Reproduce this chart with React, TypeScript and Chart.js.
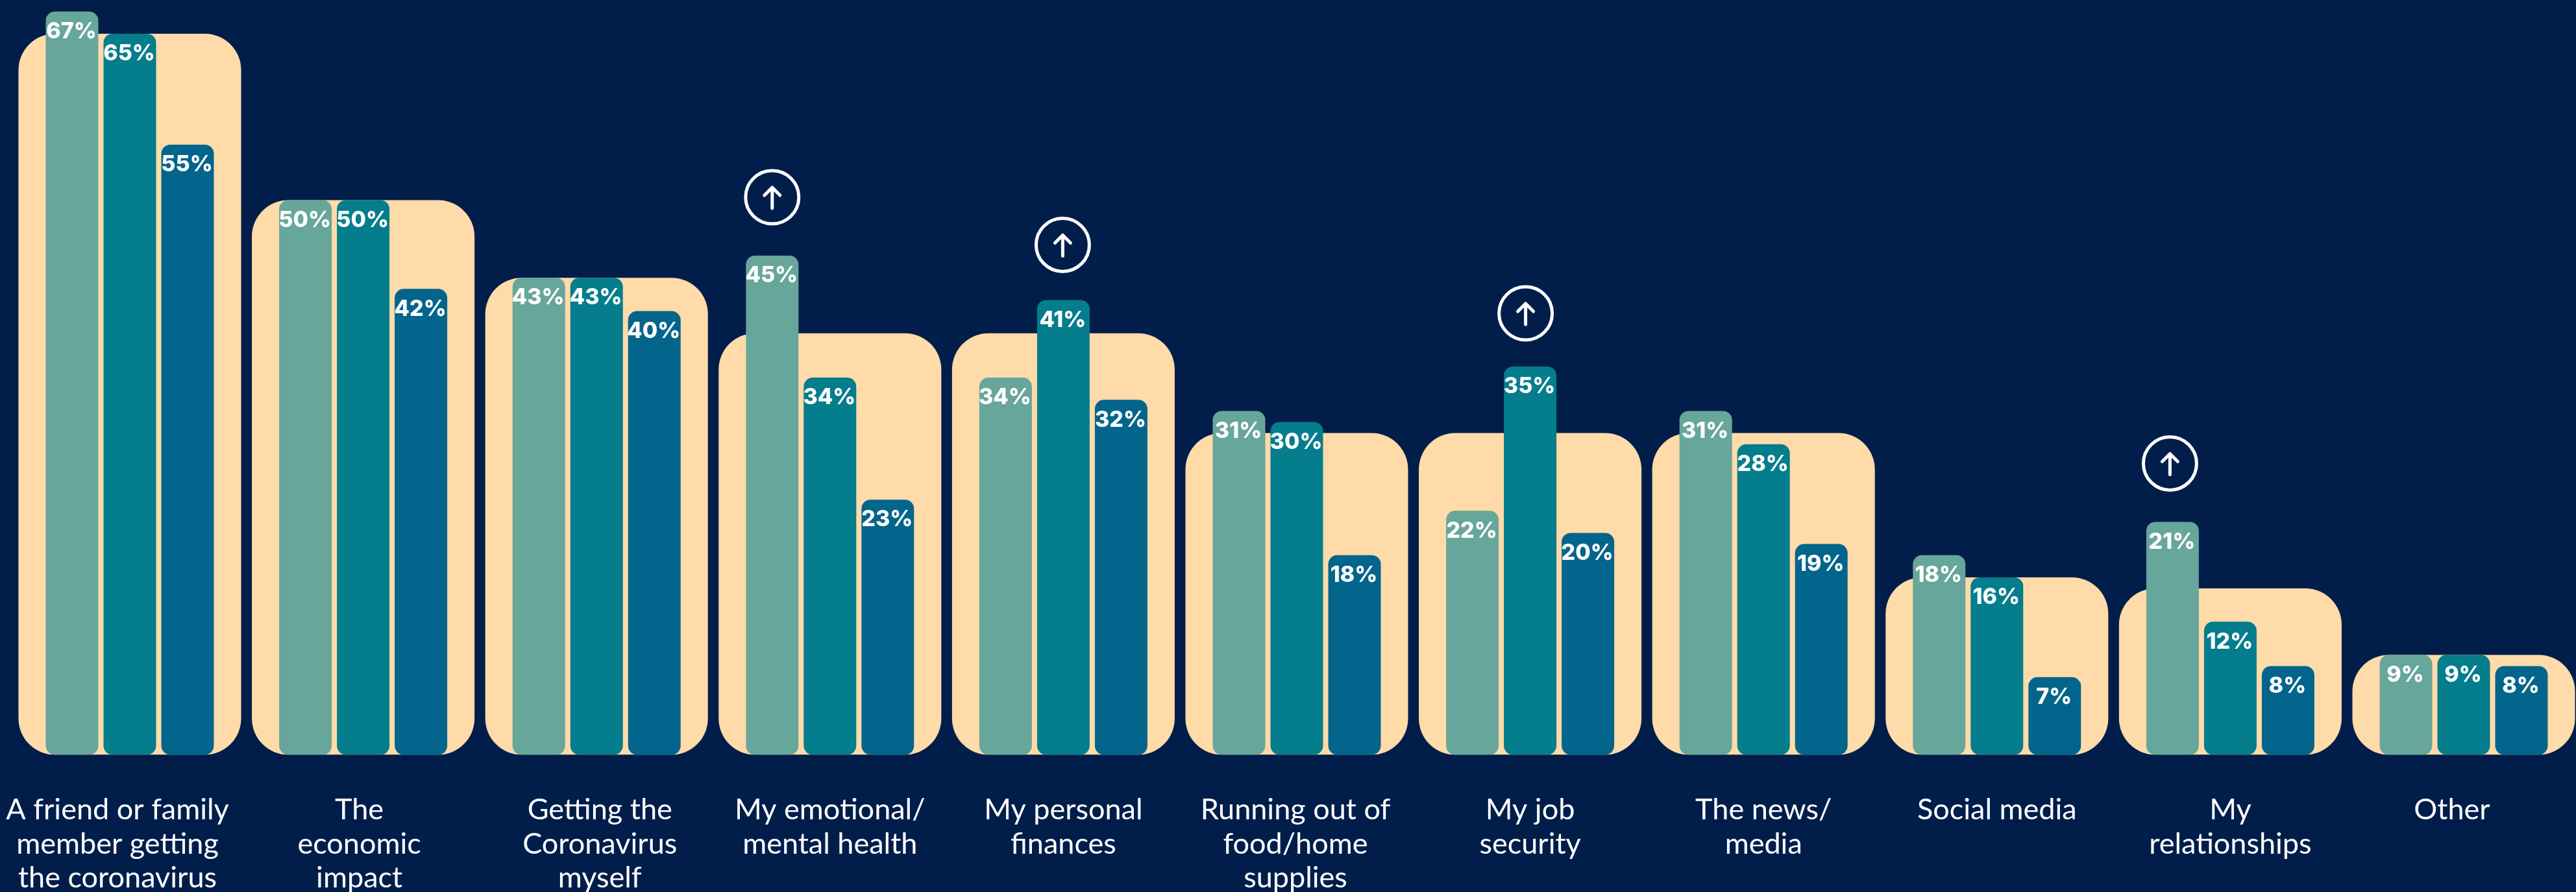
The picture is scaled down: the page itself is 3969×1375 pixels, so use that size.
import React, { useEffect, useRef } from "react";
import { Chart, registerables } from "chart.js";

Chart.register(...registerables);

const categories: string[][] = [
  ["A friend or family", "member getting", "the coronavirus"],
  ["The", "economic", "impact"],
  ["Getting the", "Coronavirus", "myself"],
  ["My emotional/", "mental health"],
  ["My personal", "finances"],
  ["Running out of", "food/home", "supplies"],
  ["My job", "security"],
  ["The news/", "media"],
  ["Social media"],
  ["My", "relationships"],
  ["Other"],
];

const firstWave = [67, 50, 43, 45, 34, 31, 22, 31, 18, 21, 9];
const secondWave = [65, 50, 43, 34, 41, 30, 35, 28, 16, 12, 9];
const thirdWave = [55, 42, 40, 23, 32, 18, 20, 19, 7, 8, 8];
const backdrop = [65, 50, 43, 38, 38, 29, 29, 29, 16, 15, 9];

// Bars that carry the "rising" marker, as [dataset index, category index].
const risingBars: [number, number][] = [
  [0, 3],
  [1, 4],
  [1, 6],
  [0, 9],
];

// Offset of each marker's centre from the top of its bar, in pixels.
const markerOffsets: [number, number][] = [
  [0, -90],
  [-1, -85],
  [-7, -82],
  [-4, -90],
];

// Horizontal nudge of individual category captions, in pixels.
const captionNudge = [-19, -6, 5, 0, 0, -2, 0, 0, 0, 0, -18];

const NAVY = "#011E4A";
const PEACH = "#FFDBA9";
const MINT = "#67A69A";
const TEAL = "#047D8C";
const BLUE = "#03658C";
const WHITE = "#FFFFFF";

const CAPTION_FONT = "400 45px Lato";
const VALUE_FONT = "800 34px Inter";

const annotations = {
  id: "annotations",
  afterDatasetsDraw(chart: any) {
    const { ctx } = chart;

    // Percentage labels inside the top of each bar.
    ctx.save();
    ctx.font = VALUE_FONT;
    ctx.fillStyle = WHITE;
    ctx.textAlign = "center";
    ctx.textBaseline = "middle";
    [0, 1, 2].forEach((d) => {
      chart.getDatasetMeta(d).data.forEach((bar: any, i: number) => {
        const value = chart.data.datasets[d].data[i];
        ctx.fillText(`${value}%`, bar.x - 1, bar.y + 31);
      });
    });
    ctx.restore();

    // Circled up-arrows above the bars that rose.
    ctx.save();
    ctx.strokeStyle = WHITE;
    ctx.lineCap = "round";
    ctx.lineJoin = "round";
    risingBars.forEach(([d, i], m) => {
      const bar: any = chart.getDatasetMeta(d).data[i];
      const cx = bar.x + markerOffsets[m][0];
      const cy = bar.y + markerOffsets[m][1];
      ctx.lineWidth = 5;
      ctx.beginPath();
      ctx.arc(cx, cy, 41, 0, Math.PI * 2);
      ctx.stroke();
      ctx.beginPath();
      ctx.moveTo(cx, cy + 17);
      ctx.lineTo(cx, cy - 15);
      ctx.moveTo(cx - 12, cy - 3);
      ctx.lineTo(cx, cy - 15);
      ctx.lineTo(cx + 12, cy - 3);
      ctx.stroke();
    });
    ctx.restore();

    // Category captions under the baseline.
    ctx.save();
    ctx.font = CAPTION_FONT;
    ctx.fillStyle = WHITE;
    ctx.textAlign = "center";
    ctx.textBaseline = "alphabetic";
    const x = chart.scales.x;
    categories.forEach((lines, i) => {
      lines.forEach((line, l) => {
        ctx.fillText(line, x.getPixelForValue(i) + captionNudge[i], 1263 + l * 52.5);
      });
    });
    ctx.restore();
  },
};

export default function App() {
  const ref = useRef<HTMLCanvasElement>(null);

  useEffect(() => {
    const front = { categoryPercentage: 0.7425, barPercentage: 0.91, borderRadius: 14, borderSkipped: false, order: 1 };
    const chart = new Chart(ref.current!, {
      type: "bar",
      data: {
        labels: categories.map((c) => c.join(" ")),
        datasets: [
          { label: "First", data: firstWave, backgroundColor: MINT, ...front },
          { label: "Second", data: secondWave, backgroundColor: TEAL, ...front },
          { label: "Third", data: thirdWave, backgroundColor: BLUE, ...front },
          {
            label: "Backdrop",
            data: backdrop,
            backgroundColor: PEACH,
            grouped: false,
            categoryPercentage: 0.954,
            barPercentage: 1,
            borderRadius: 56,
            borderSkipped: false,
            order: 2,
          },
        ],
      },
      options: {
        responsive: false,
        animation: false,
        layout: { padding: { left: 20.2, right: 4.2, top: 9.25, bottom: 0 } },
        plugins: { legend: { display: false }, tooltip: { enabled: false } },
        scales: {
          x: {
            grid: { display: false },
            border: { display: false },
            ticks: { display: false },
            afterFit: (s: any) => {
              s.height = 211.5;
            },
          },
          y: { display: false, min: 0, max: 67.5 },
        },
      },
      plugins: [annotations],
    } as any);
    return () => chart.destroy();
  }, []);

  return (
    <div style={{ position: "absolute", left: 0, top: 0, width: 3969, height: 1375, overflow: "hidden", background: NAVY }}>
      <canvas ref={ref} width={3980} height={1375} style={{ display: "block" }} />
    </div>
  );
}
